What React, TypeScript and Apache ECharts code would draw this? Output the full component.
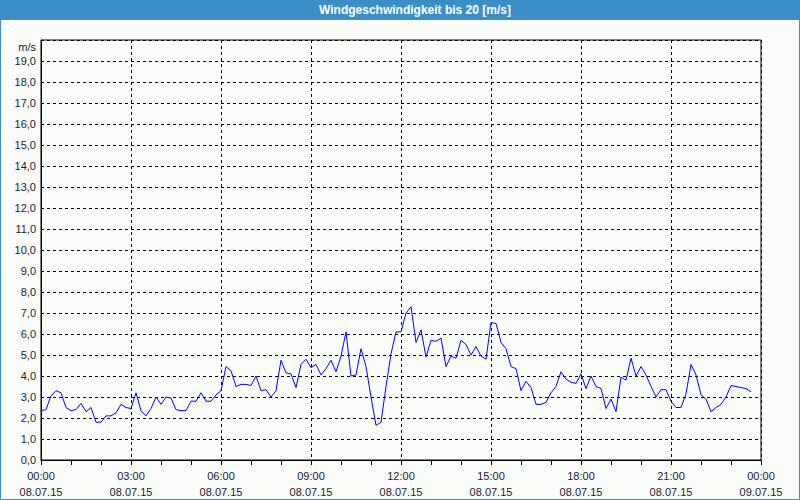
import React, { useEffect, useRef } from "react";
import * as echarts from "echarts";

// Wind speed (m/s), 10-minute readings, 08.07.15 00:00 onwards
const wind00to06 = [2.35, 2.4, 3.05, 3.3, 3.2, 2.5, 2.35, 2.4, 2.7, 2.3, 2.5, 1.8, 1.8, 2.1, 2.1, 2.25, 2.65, 2.5, 2.45, 3.2, 2.35, 2.1, 2.45, 3.0, 2.65, 3.0, 2.95, 2.4, 2.35, 2.35, 2.8, 2.8, 3.2, 2.8, 2.8, 3.1];
const wind06to12 = [3.3, 4.45, 4.25, 3.5, 3.6, 3.6, 3.55, 4.0, 3.3, 3.35, 3.0, 3.3, 4.75, 4.15, 4.1, 3.45, 4.55, 4.8, 4.4, 4.55, 4.05, 4.35, 4.75, 4.2, 4.95, 6.1, 4.0, 4.05, 5.3, 4.45, 3.0, 1.65, 1.8, 3.5, 5.05, 6.1];
const wind12to18 = [6.1, 7.0, 7.3, 5.6, 6.2, 4.9, 5.7, 5.65, 5.8, 4.45, 4.95, 4.85, 5.7, 5.5, 5.0, 5.4, 4.95, 4.8, 6.55, 6.5, 5.6, 5.3, 4.45, 4.35, 3.3, 3.75, 3.45, 2.65, 2.65, 2.75, 3.2, 3.5, 4.2, 3.85, 3.7, 3.65];
const wind18to24 = [4.1, 3.4, 4.0, 3.5, 3.4, 2.45, 2.9, 2.3, 3.95, 3.8, 4.85, 4.0, 4.45, 4.05, 3.5, 3.0, 3.35, 3.35, 2.8, 2.5, 2.5, 3.15, 4.55, 4.05, 3.1, 2.9, 2.3, 2.5, 2.65, 3.0, 3.55, 3.5, 3.45, 3.4, 3.25];

const stepHours = 1 / 6; // 10 minutes
const tickHours = [0, 3, 6, 9, 12, 15, 18, 21, 24];
const tickTimes = ["00:00", "03:00", "06:00", "09:00", "12:00", "15:00", "18:00", "21:00", "00:00"];
const tickDates = ["08.07.15", "08.07.15", "08.07.15", "08.07.15", "08.07.15", "08.07.15", "08.07.15", "08.07.15", "09.07.15"];

const title = "Windgeschwindigkeit bis 20 [m/s]";
const unit = "m/s";

export default function App() {
  const ref = useRef<HTMLDivElement>(null);
  useEffect(() => {
    if (!ref.current) return;
    const chart = echarts.init(ref.current, undefined, { renderer: "svg" });
    const values = [...wind00to06, ...wind06to12, ...wind12to18, ...wind18to24];
    const data = values.map((v, i) => [i * stepHours, v]);
    const font = "Liberation Sans";
    const dash = [3, 3];
    chart.setOption({
      animation: false,
      backgroundColor: "#fafcfa",
      textStyle: { fontFamily: font },
      grid: { left: 41, right: 39, top: 40, bottom: 40, show: true, borderColor: "#000", borderWidth: 1 },
      xAxis: {
        type: "value",
        min: 0,
        max: 24,
        interval: 3,
        axisLine: { lineStyle: { color: "#000", width: 1 } },
        axisTick: { show: true, length: 5, lineStyle: { color: "#000" } },
        minorTick: { show: true, splitNumber: 3, length: 5, lineStyle: { color: "#000" } },
        splitLine: { show: true, lineStyle: { color: "#000", type: dash, width: 1 } },
        axisLabel: {
          margin: 8,
          fontSize: 11,
          fontFamily: font,
          color: "#1a1a2e",
          lineHeight: 16,
          formatter: (v: number) => {
            const k = tickHours.indexOf(Math.round(v));
            return k >= 0 ? tickTimes[k] + "\n" + tickDates[k] : "";
          },
        },
      },
      yAxis: {
        type: "value",
        min: 0,
        max: 20,
        interval: 1,
        axisLine: { show: true, lineStyle: { color: "#000", width: 1 } },
        axisTick: { show: false },
        splitLine: { show: true, lineStyle: { color: "#000", type: dash, width: 1 } },
        axisLabel: {
          margin: 5,
          fontSize: 11,
          fontFamily: font,
          color: "#1a1a2e",
          formatter: (v: number) => (v >= 20 ? "" : v.toFixed(1).replace(".", ",")),
        },
      },
      series: [
        {
          type: "line",
          data,
          showSymbol: false,
          symbol: "none",
          lineStyle: { color: "#0000ff", width: 1 },
          z: 5,
        },
      ],
      graphic: [
        { type: "rect", shape: { x: 0, y: 0, width: 800, height: 20 }, style: { fill: "#3c8fc6" }, z: 10 },
        {
          type: "text",
          x: 415,
          y: 10,
          style: { text: title, fill: "#ffffff", font: "bold 12px 'Liberation Sans'", align: "center", verticalAlign: "middle" },
          z: 11,
        },
        { type: "rect", shape: { x: 0.5, y: 0.5, width: 799, height: 499 }, style: { fill: "none", stroke: "#3c8fc6", lineWidth: 1 }, z: 10 },
        {
          type: "text",
          x: 36,
          y: 47,
          style: { text: unit, fill: "#1a1a2e", font: "11px 'Liberation Sans'", align: "right", verticalAlign: "middle" },
          z: 11,
        },
      ],
    });
    return () => chart.dispose();
  }, []);
  return <div ref={ref} style={{ position: "fixed", left: 0, top: 0, width: 800, height: 500 }} />;
}
